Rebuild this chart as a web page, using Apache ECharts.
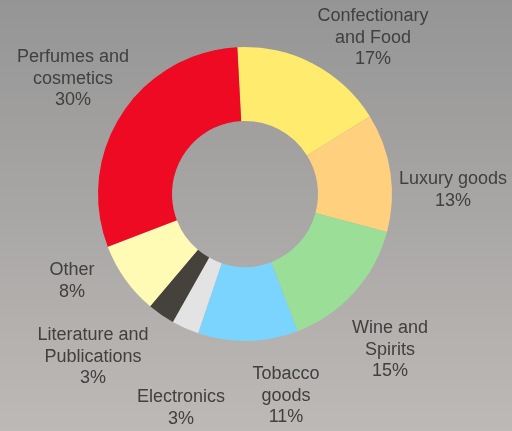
<!DOCTYPE html>
<html><head><meta charset="utf-8">
<script src="https://cdn.jsdelivr.net/npm/echarts@6/dist/echarts.min.js"></script>
<style>html,body{margin:0;padding:0;}#c{width:512px;height:431px;}</style>
</head><body><div id="c"></div>
<script>
const categories = ["Confectionary\nand Food","Luxury goods","Wine and\nSpirits","Tobacco\ngoods","Electronics","Literature and\nPublications","Other","Perfumes and\ncosmetics"];
const values = [17,13,15,11,3,3,8,30];
const colors = ["#FFEB6E","#FFD07E","#9BDE98","#7BD4FE","#E3E3E3","#45423C","#FFFAB4","#EE0A23"];
const labelAnchors = [[373,38],[453,190],[390,350],[286,396],[181,408],[93,357],[72,281],[73,79]];

const chart = echarts.init(document.getElementById('c'), null, {renderer:'canvas'});
chart.setOption({
  backgroundColor: {type:'linear', x:0, y:0, x2:0, y2:1, colorStops:[
    {offset:0, color:'#959595'}, {offset:1, color:'#bdb9b6'}]},
  animation:false,
  series:[{
    type:'pie',
    center:[245,194],
    radius:[73,147],
    startAngle:93,
    clockwise:true,
    avoidLabelOverlap:false,
    data: categories.map((n,i)=>({name:n, value:values[i], itemStyle:{color:colors[i]}})),
    label:{show:true, position:'outside', formatter:p=>p.name+'\n'+p.value+'%',
      color:'#404040', fontSize:18, lineHeight:21.5, fontFamily:'Liberation Sans, Arial, sans-serif', align:'center'},
    labelLine:{show:false},
    labelLayout: p => ({x:labelAnchors[p.dataIndex][0], y:labelAnchors[p.dataIndex][1], align:'center', verticalAlign:'middle'})
  }]
});
</script></body></html>
